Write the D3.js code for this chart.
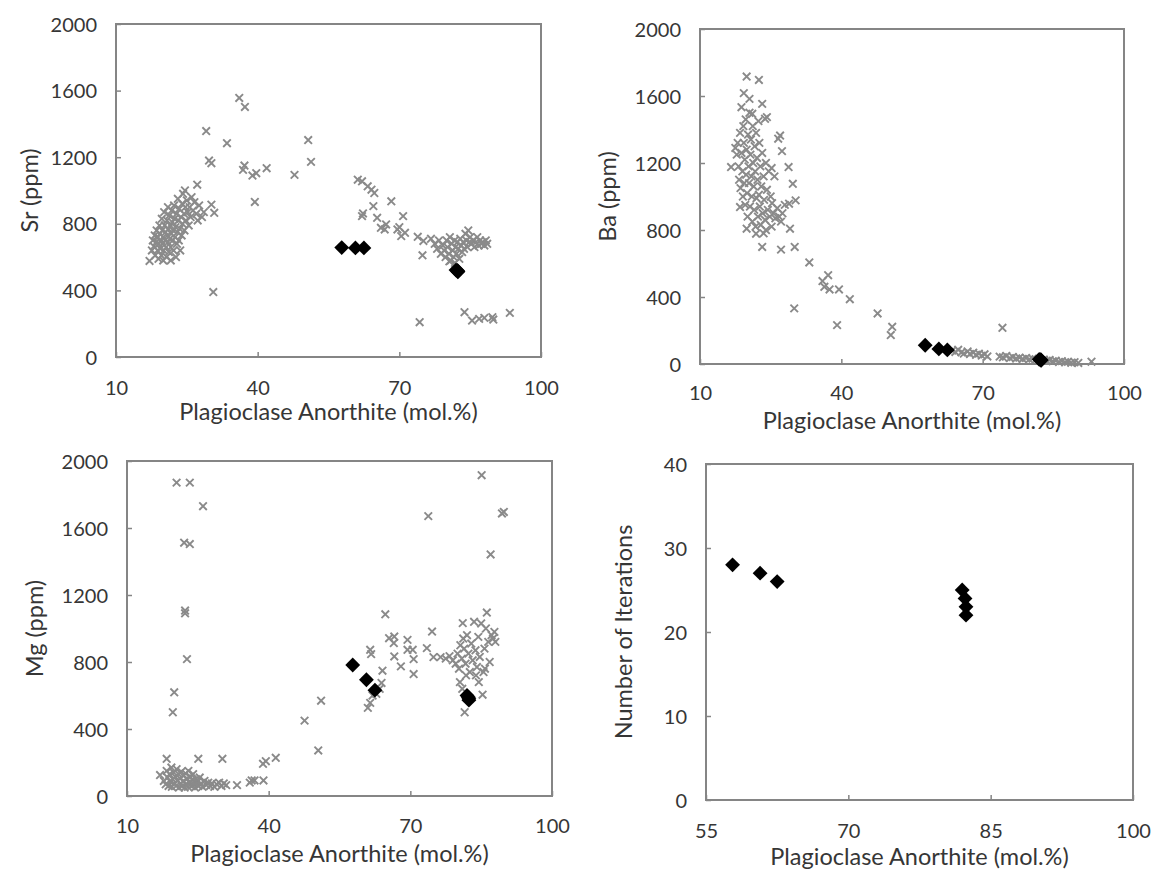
<!DOCTYPE html>
<html>
<head>
<meta charset="utf-8">
<script src="https://cdn.jsdelivr.net/npm/d3@7"></script>
<style>
  body { margin: 0; background: #fff; }
  svg text { font-family: Lato, "Open Sans", sans-serif; fill: #363636; }
</style>
</head>
<body>
<svg id="chart" width="1157" height="874"></svg>
<script>
// Measured plagioclase compositions: [An mol.%, ppm]
const srData = [
  [17.1,577],[17.6,640],[17.8,700],[18.0,665],[18.2,730],[18.3,610],[18.5,690],[18.6,760],[18.8,640],[18.9,720],
  [19.0,590],[19.1,680],[19.2,790],[19.3,740],[19.4,650],[19.5,700],[19.6,610],[19.7,830],[19.8,760],[19.9,680],
  [20.0,720],[20.0,580],[20.1,640],[20.2,870],[20.3,790],[20.4,700],[20.5,750],[20.6,660],[20.7,600],[20.8,820],
  [20.9,730],[21.0,690],[21.0,900],[21.1,770],[21.2,630],[21.3,850],[21.4,710],[21.5,790],[21.6,580],[21.6,660],
  [21.7,740],[21.8,880],[21.9,810],[22.0,700],[22.1,760],[22.2,640],[22.3,910],[22.4,830],[22.5,720],[22.6,780],
  [22.7,600],[22.8,860],[22.9,680],[23.0,750],[23.1,950],[23.2,820],[23.3,700],[23.4,890],[23.5,770],[23.6,640],
  [23.8,840],[23.9,730],[24.0,920],[24.1,800],[24.2,980],[24.4,860],[24.5,760],[24.6,1000],[24.7,900],[24.8,820],
  [25.0,940],[25.2,870],[25.4,790],[25.6,900],[25.8,840],[26.0,960],[26.3,880],[26.6,930],[27.0,860],[27.3,820],
  [27.6,910],[28.2,840],[28.6,870],[27.2,1035],
  [29.1,1357],[29.7,1180],[30.2,1164],[30.6,390],[30.2,915],[30.8,866],[33.5,1284],[36.1,1556],[37.3,1502],[37.2,1150],
  [36.9,1124],[38.9,1090],[39.7,1104],[39.4,931],[41.9,1134],[47.8,1094],[50.7,1303],[51.3,1172],
  [61.2,1065],[62.1,1055],[63.3,1025],[64.1,1005],[64.7,985],[64.5,906],[62.1,846],[62.3,862],[65.3,836],[66.1,776],
  [67.2,796],[66.9,766],[68.3,935],[69.6,766],[70.8,846],[70.4,726],[71.2,746],[70.0,780],
  [73.9,722],[75.1,697],[76.7,710],[74.9,611],[77.5,680],[78.0,650],[78.4,700],[78.8,620],[79.2,670],[79.5,640],
  [79.8,600],[80.0,700],[80.2,660],[80.5,620],[80.7,720],[80.9,580],[81.1,680],[81.3,640],[81.5,600],[81.7,700],
  [81.9,660],[82.1,620],[82.3,690],[82.5,650],[82.7,590],[82.9,710],[83.1,670],[83.3,630],[83.5,690],[83.7,650],
  [84.0,740],[84.2,700],[84.4,660],[84.6,760],[84.8,690],[85.0,720],[85.3,680],[85.6,700],[85.9,660],[86.2,690],
  [86.5,720],[86.8,670],[87.1,700],[87.4,680],[87.7,690],[88.0,670],[88.3,700],[88.6,680],[81.8,565],[80.6,575],
  [74.3,209],[83.8,269],[85.4,219],[86.9,229],[89.7,239],[89.9,225],[93.4,265],[88.0,235]
];

const baData = [
  [19.9,1716],[22.5,1696],[19.3,1617],[20.5,1583],[18.8,1533],[23.2,1553],[21.1,1494],[23.8,1464],[24.2,1474],
  [17.5,1290],[17.8,1250],[18.0,1320],[18.2,1180],[18.3,1100],[18.5,1380],[18.6,1050],[18.8,1260],[19.0,1150],[19.1,1000],
  [19.2,1420],[19.3,1320],[19.4,1080],[19.5,1220],[19.6,950],[19.7,1460],[19.8,1130],[19.9,1280],[20.0,1020],[20.1,880],
  [20.2,1370],[20.3,1180],[20.4,1080],[20.5,1500],[20.6,940],[20.7,1250],[20.8,1340],[20.9,1120],[21.0,1000],[21.1,850],
  [21.2,1420],[21.3,1200],[21.4,1060],[21.5,920],[21.6,1300],[21.7,1150],[21.8,820],[21.9,1380],[22.0,990],[22.1,1230],
  [22.2,1100],[22.3,880],[22.4,1450],[22.5,1010],[22.6,1320],[22.7,940],[22.8,1180],[22.9,830],[23.0,1060],[23.2,1260],
  [23.3,900],[23.5,1120],[23.6,980],[23.8,860],[24.0,1200],[24.2,1040],[24.4,920],[24.6,1150],[24.8,880],[25.0,1000],
  [25.3,960],[25.6,900],[26.0,870],[26.4,930],[26.8,880],[27.2,850],[27.5,900],[28.0,950],[25.2,820],[24.0,800],
  [23.5,780],[25.2,1170],[25.8,1120],
  [27.0,1364],[26.6,1345],[27.4,1271],[28.8,1176],[29.7,1076],[30.3,977],[28.9,957],[29.1,808],[30.1,699],[23.2,699],
  [27.2,683],[16.6,1176],[18.5,937],[19.9,808],[21.9,778],
  [30.0,332],[33.2,606],[36.0,495],[37.2,530],[36.4,461],[37.5,445],[39.5,445],[39.1,232],[41.8,387],[47.7,302],
  [50.8,222],[50.5,173],[74.2,216],
  [63.5,80],[64.2,72],[64.8,85],[65.5,70],[66.0,62],[66.8,75],[67.3,60],[68.0,68],[68.6,55],[69.2,62],
  [69.8,50],[70.4,58],[71.0,45],[73.6,44],[74.3,40],[75.0,48],[75.8,35],[76.4,42],[77.1,33],[77.8,38],
  [78.5,30],[79.2,36],[79.9,28],[80.6,32],[81.3,25],[83.0,26],[83.6,20],[84.2,24],[84.9,16],[85.5,20],
  [86.2,12],[86.8,17],[87.5,10],[88.1,14],[88.8,8],[89.5,11],[90.3,6],[93.1,14]
];

const mgData = [
  [17.0,125],[17.8,90],[18.2,70],[18.4,150],[18.6,110],[18.8,60],[19.0,130],[19.2,85],[19.4,170],[19.5,55],
  [19.7,100],[19.9,140],[20.0,75],[20.2,115],[20.4,60],[20.5,160],[20.7,90],[20.9,130],[21.0,50],[21.2,105],
  [21.4,75],[21.5,145],[21.7,60],[21.9,120],[22.0,90],[22.2,50],[22.4,135],[22.5,70],[22.7,105],[22.9,55],
  [23.0,150],[23.2,80],[23.4,115],[23.6,60],[23.8,95],[24.0,130],[24.2,70],[24.4,50],[24.6,100],[24.8,80],
  [25.1,60],[25.4,110],[25.7,75],[26.0,55],[26.4,90],[26.8,65],[27.2,80],[27.6,60],[28.0,75],[28.5,55],
  [29.0,70],[29.5,80],[30.0,60],[30.5,75],[31.0,65],
  [18.4,222],[25.1,222],[30.2,222],[33.3,65],[36.4,93],[37.0,93],[36.0,80],[38.8,192],[39.4,208],[38.9,93],[41.5,228],
  [20.5,1871],[23.3,1871],[26.1,1730],[22.1,1512],[23.3,1504],[22.3,1107],[22.3,1091],[22.7,817],[20.0,619],[19.7,500],
  [47.6,450],[51.1,569],[50.5,272],
  [64.7,1085],[61.5,873],[61.7,847],[61.0,526],[61.5,556],[62.0,600],[64.1,748],[63.9,675],[63.5,640],[65.5,942],
  [66.6,952],[66.5,913],[66.6,833],[68.0,774],[69.4,932],[69.4,873],[70.5,873],[70.7,817],[70.7,728],[62.8,610],
  [73.8,1671],[74.6,982],[73.5,883],[74.9,829],[76.4,829],[77.5,820],[78.3,835],[79.0,810],[79.6,790],[80.0,850],
  [80.3,760],[80.6,900],[80.9,820],[81.2,940],[81.5,500],[81.0,640],[81.4,880],[81.7,790],[82.0,960],[82.3,850],
  [82.6,740],[82.9,910],[83.2,810],[83.5,1040],[83.8,870],[84.1,770],[84.4,950],[84.7,830],[85.0,1030],[85.3,605],
  [85.5,740],[85.7,880],[86.0,1000],[86.2,1095],[86.5,920],[86.8,800],[87.0,1442],[87.2,960],[87.5,940],[87.8,980],
  [88.0,920],[85.1,1915],[89.4,1687],[89.8,1696],[84.5,680],[83.9,720],[85.8,760],[80.5,680],[81.8,720],[81.1,1032]
];

// Model results: anorthite, concentrations and iteration counts
const modelAn   = [57.8, 60.7, 62.5, 82.0, 82.3, 82.4, 82.4];
const modelSr   = [657, 655, 655, 522, 520, 515, 512];
const modelBa   = [112, 90, 84, 28, 26, 24, 22];
const modelMg   = [782, 694, 632, 600, 590, 580, 572];
const modelIter = [28, 27, 26, 25, 24, 23, 22];

const xTicksWide = [10, 40, 70, 100];
const xTicksNarrow = [55, 70, 85, 100];
const ppmTicks = [0, 400, 800, 1200, 1600, 2000];
const iterTicks = [0, 10, 20, 30, 40];

const xTitle = "Plagioclase Anorthite (mol.%)";

const svg = d3.select("#chart");

const panels = [
  { box: [116, 24, 541, 357], xDom: [10, 100], xTicks: xTicksWide, yDom: [0, 2000], yTicks: ppmTicks,
    yLabel: "Sr (ppm)", points: srData, model: modelSr, xLabDy: 31, titleDy: 55, yLabDx: -86 },
  { box: [700, 29, 1124, 364], xDom: [10, 100], xTicks: xTicksWide, yDom: [0, 2000], yTicks: ppmTicks,
    yLabel: "Ba (ppm)", points: baData, model: modelBa, xLabDy: 29, titleDy: 57, yLabDx: -92 },
  { box: [127, 461, 552, 796], xDom: [10, 100], xTicks: xTicksWide, yDom: [0, 2000], yTicks: ppmTicks,
    yLabel: "Mg (ppm)", points: mgData, model: modelMg, xLabDy: 30, titleDy: 58, yLabDx: -92 },
  { box: [706, 464, 1133, 800], xDom: [55, 100], xTicks: xTicksNarrow, yDom: [0, 40], yTicks: iterTicks,
    yLabel: "Number of Iterations", points: [], model: modelIter, xLabDy: 31, titleDy: 57, yLabDx: -82 }
];

const axisColor = "#858585";
const crossColor = "#8a8a8a";
const crossPath = "M-3.8,-3.8L3.8,3.8M-3.8,3.8L3.8,-3.8";
const diamond = d3.symbol(d3.symbolSquare, 110)();
const fmt = d3.format("d");

panels.forEach(p => {
  const [x0, y0, x1, y1] = p.box;
  const x = d3.scaleLinear().domain(p.xDom).range([x0, x1]);
  const y = d3.scaleLinear().domain(p.yDom).range([y1, y0]);
  const g = svg.append("g");

  // frame
  g.append("rect").attr("x", x0).attr("y", y0).attr("width", x1 - x0).attr("height", y1 - y0)
    .attr("fill", "none").attr("stroke", axisColor).attr("stroke-width", 2);

  // x axis: inside ticks, labels below
  const xa = g.append("g").attr("transform", `translate(0,${y1})`)
    .call(d3.axisBottom(x).tickValues(p.xTicks).tickFormat(fmt).tickSizeInner(-5).tickSizeOuter(0).tickPadding(0));
  xa.select(".domain").remove();
  xa.selectAll("line").attr("stroke", axisColor).attr("stroke-width", 1.5);
  xa.selectAll("text").attr("y", p.xLabDy).attr("dy", "0.35em").attr("font-size", 20);

  // y axis
  const ya = g.append("g").attr("transform", `translate(${x0},0)`)
    .call(d3.axisLeft(y).tickValues(p.yTicks).tickFormat(fmt).tickSizeInner(-5).tickSizeOuter(0).tickPadding(0));
  ya.select(".domain").remove();
  ya.selectAll("line").attr("stroke", axisColor).attr("stroke-width", 1.5);
  ya.selectAll("text").attr("x", -19).attr("dy", "0.35em").attr("font-size", 20);

  // axis titles
  g.append("text").attr("x", (x0 + x1) / 2).attr("y", y1 + p.titleDy).attr("dy", "0.35em")
    .attr("text-anchor", "middle").attr("font-size", 23.5).text(xTitle);
  g.append("text")
    .attr("transform", `translate(${x0 + p.yLabDx},${(y0 + y1) / 2}) rotate(-90)`)
    .attr("dy", "0.35em").attr("text-anchor", "middle").attr("font-size", 23.5).text(p.yLabel);

  // measured analyses
  g.append("g").selectAll("path").data(p.points).join("path")
    .attr("transform", d => `translate(${x(d[0])},${y(d[1])})`)
    .attr("d", crossPath).attr("stroke", crossColor).attr("stroke-width", 1.9).attr("fill", "none");

  // model results
  g.append("g").selectAll("path").data(modelAn.map((a, i) => [a, p.model[i]])).join("path")
    .attr("transform", d => `translate(${x(d[0])},${y(d[1])}) rotate(45)`)
    .attr("d", diamond).attr("fill", "#000");
});
</script>
</body>
</html>
